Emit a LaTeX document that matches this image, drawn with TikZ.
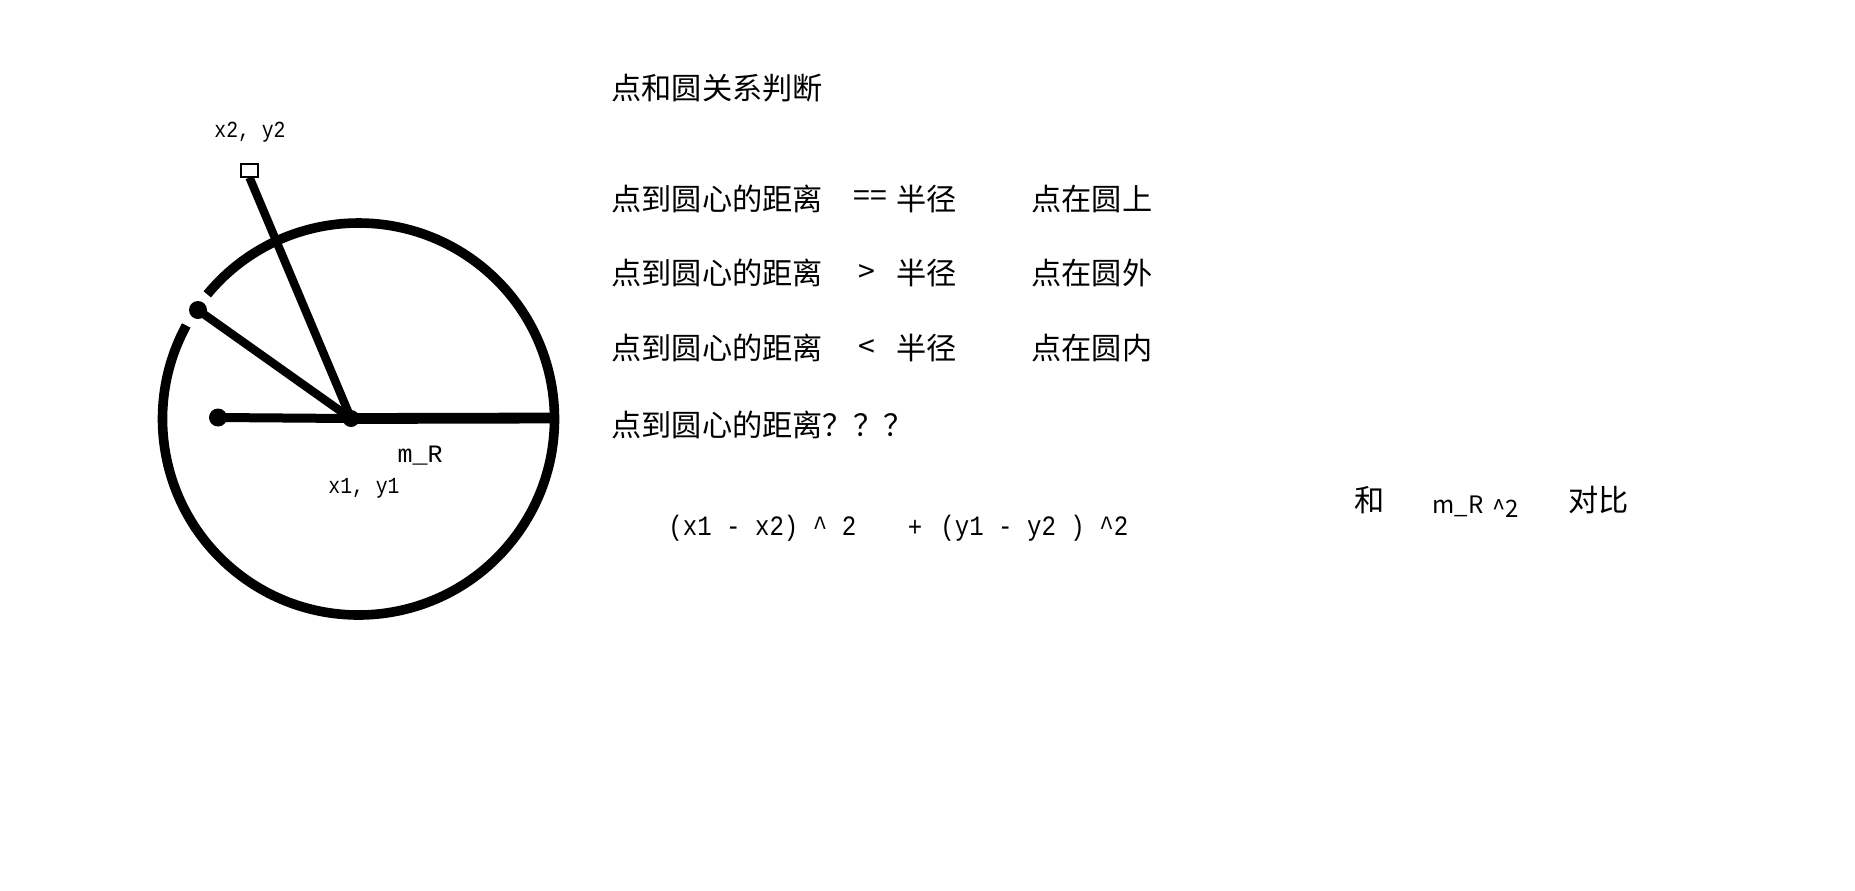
\documentclass[tikz,border=0pt]{standalone}
\usepackage{fontspec}
\newfontfamily\cjk{Noto Sans CJK SC}
\newfontfamily\monof[FakeStretch=0.86]{Liberation Mono}
\newfontfamily\monow{Liberation Mono}
\begin{document}
\begin{tikzpicture}[x=0.5pt,y=-0.5pt,
  cn/.style={font=\cjk\fontsize{15.1}{18}\selectfont,inner sep=0,anchor=west},
  cnc/.style={font=\cjk\fontsize{15.1}{18}\selectfont,inner sep=0},
  lbl/.style={font=\monof\fontsize{11.5}{13}\selectfont,inner sep=0},
  lblw/.style={font=\monow\fontsize{12.5}{14}\selectfont,inner sep=0},
  frm/.style={font=\monof\fontsize{14}{16}\selectfont,inner sep=0,anchor=west},
  sm/.style={font=\cjk\fontsize{12}{14}\selectfont,inner sep=0,anchor=base west},
  dot/.style={circle,fill=black,inner sep=0,minimum size=#1},
  ring/.style={line width=4.8pt},
  spoke/.style={line width=4.2pt},
  thin spoke/.style={line width=4.5pt},
  wide spoke/.style={line width=5.4pt}]
\fill[white] (0,0) rectangle (1855,890);
\useasboundingbox (0,0) rectangle (1855,890);
% circle with a small gap at the upper-left point
\coordinate (O) at (358.5,419);
\coordinate (E) at (554.5,418);
\draw[ring] (O) ++(219.5:196 and 196) arc[start angle=219.5,end angle=568.5,x radius=196,y radius=196];
% points
\node[dot=8.5pt] (c) at (351,418.5) {};
\node[dot=9pt] (l) at (218,417.5) {};
\node[dot=9pt] (u) at (198,310) {};
\node[draw=black,fill=white,line width=1pt,inner sep=0,minimum width=8.5pt,minimum height=6.5pt] (sq) at (249.5,170) {};
% spokes
\draw[thin spoke] (l.center) -- (c.center);
\draw[wide spoke] (c.center) -- (E);
\draw[spoke] (u.center) -- (c.center);
\draw[spoke] (sq.south) -- (c.center);
% labels near circle
\node[lbl] (lx2) at (250,132) {x2, y2};
\node[lblw] (lmr) at (420,456) {m\_R};
\node[lbl] (lx1) at (364,488) {x1, y1};
% text block
\node[cn] (title) at (611,88) {点和圆关系判断};
\node[cn] (r1a) at (611,199) {点到圆心的距离};
\node[cn] (r1b) at (853,199) {==};
\node[cn] (r1c) at (896,199) {半径};
\node[cn] (r1d) at (1031,199) {点在圆上};
\node[cn] (r2a) at (611,273) {点到圆心的距离};
\node[cn] (r2b) at (858,273) {>};
\node[cn] (r2c) at (896,273) {半径};
\node[cn] (r2d) at (1031,273) {点在圆外};
\node[cn] (r3a) at (611,348) {点到圆心的距离};
\node[cn] (r3b) at (858,348) {<};
\node[cn] (r3c) at (896,348) {半径};
\node[cn] (r3d) at (1031,348) {点在圆内};
\node[cn] (r4) at (611,425) {点到圆心的距离？？？};
% formula
\node[frm] (f1) at (668,528) {(x1 - x2) \string^ 2};
\node[frm,anchor=center] (f2) at (915,528) {+};
\node[frm] (f3) at (940,528) {(y1 - y2 ) \string^2};
% comparison
\node[cnc] (he) at (1370,500) {和};
\node[sm] (mr) at (1432,513) {m\_R};
\node[sm] (sq2) at (1492,517) {\string^2};
\node[cn] (db) at (1568,500) {对比};
\end{tikzpicture}
\end{document}
